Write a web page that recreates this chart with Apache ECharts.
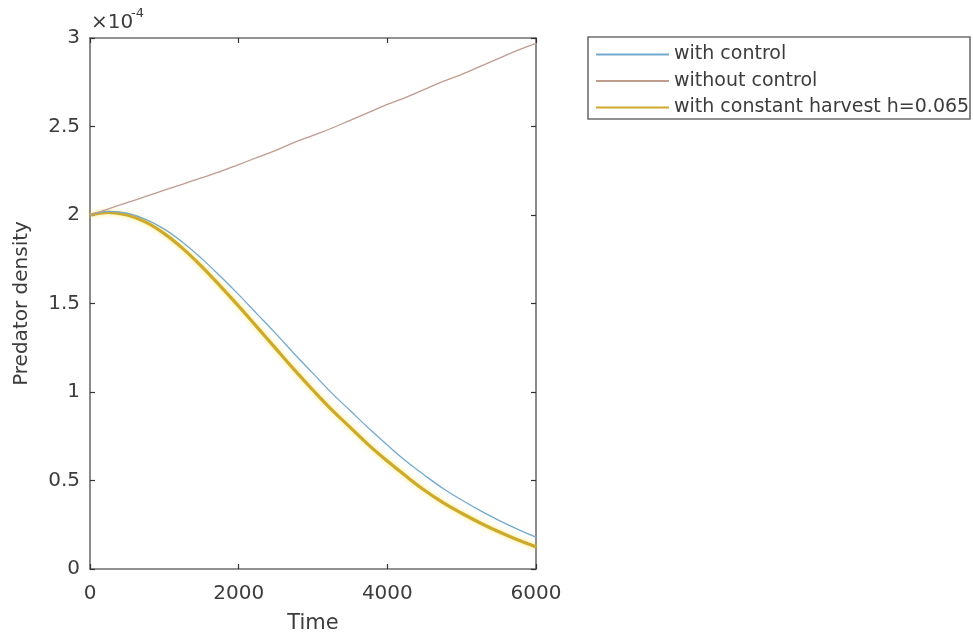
<!DOCTYPE html>
<html>
<head>
<meta charset="utf-8">
<script src="https://cdn.jsdelivr.net/npm/echarts@6/dist/echarts.min.js"></script>
<style>
html,body{margin:0;padding:0;background:#fff;}
#chart{width:973px;height:634px;}
</style>
</head>
<body>
<div id="chart"></div>
<script>
// Time points
var times = [0,250,500,750,1000,1250,1500,1750,2000,2250,2500,2750,3000,3250,3500,3750,4000,4250,4500,4750,5000,5250,5500,5750,6000];
// Predator density (x 1e-4)
var withControl = [2.00,2.02,2.01,1.975,1.92,1.845,1.755,1.655,1.55,1.44,1.33,1.215,1.105,0.995,0.895,0.795,0.70,0.61,0.53,0.455,0.39,0.33,0.275,0.225,0.18];
var withoutControl = [2.00,2.035,2.07,2.105,2.14,2.175,2.21,2.245,2.285,2.325,2.365,2.41,2.45,2.49,2.535,2.58,2.625,2.665,2.71,2.755,2.795,2.84,2.885,2.93,2.97];
var constantHarvest = [2.00,2.015,2.00,1.96,1.895,1.81,1.71,1.60,1.485,1.365,1.245,1.125,1.01,0.90,0.80,0.70,0.61,0.525,0.445,0.375,0.315,0.26,0.21,0.165,0.125];
var seriesNames = ['with control','without control','with constant harvest h=0.065'];
var xTicks = [0,2000,4000,6000];
var yTicks = [0,0.5,1,1.5,2,2.5,3];

function pairs(vals){ return times.map(function(t,i){ return [t, vals[i]]; }); }

var FONT = 'DejaVu Sans';
var TXT = '#3c3c3c';
var AX = '#6e6e6e';

var chart = echarts.init(document.getElementById('chart'), null, {renderer:'canvas'});
var axisCommon = {
  axisLine:{show:true, onZero:false, lineStyle:{color:AX, width:1.6}},
  axisTick:{show:true, inside:true, length:5, lineStyle:{color:'#333', width:1.2}},
  splitLine:{show:false}
};
chart.setOption({
  animation:false,
  backgroundColor:'#fff',
  grid:{left:90, right:437, top:38, bottom:65, containLabel:false, outerBoundsMode:'none'},
  xAxis:[
    Object.assign({type:'value', position:'bottom', min:0, max:6000, interval:2000,
      name:'Time', nameLocation:'middle', nameGap:44,
      nameTextStyle:{fontFamily:FONT, fontSize:21, color:TXT},
      axisLabel:{fontFamily:FONT, fontSize:20, color:TXT, margin:15,
        formatter:function(v){ return xTicks.indexOf(v)>=0 ? String(v) : ''; }}
    }, axisCommon),
    Object.assign({type:'value', position:'top', min:0, max:6000, interval:2000,
      axisLabel:{show:false}}, axisCommon)
  ],
  yAxis:[
    Object.assign({type:'value', position:'left', min:0, max:3, interval:0.5,
      name:'Predator density', nameLocation:'middle', nameGap:58,
      nameTextStyle:{fontFamily:FONT, fontSize:20, color:TXT},
      axisLabel:{fontFamily:FONT, fontSize:20, color:TXT, margin:10,
        formatter:function(v){ return yTicks.indexOf(v)>=0 ? String(v) : ''; }}
    }, axisCommon),
    Object.assign({type:'value', position:'right', min:0, max:3, interval:0.5,
      axisLabel:{show:false}}, axisCommon)
  ],
  legend:{
    orient:'vertical', left:595, top:45, padding:0,
    itemWidth:73, itemHeight:20, itemGap:7.5,
    data:seriesNames,
    itemStyle:{opacity:0},
    textStyle:{fontFamily:FONT, fontSize:19, color:TXT},
    selectedMode:false
  },
  graphic:[
    {type:'rect', shape:{x:588, y:37, width:382, height:82},
     style:{fill:'rgba(0,0,0,0)', stroke:'#6e6e6e', lineWidth:1.6}, z:0},
    {type:'text', left:91, top:13, style:{text:'\u00d710', font:'20px "DejaVu Sans"', fill:TXT}},
    {type:'text', left:131, top:7, style:{text:'-4', font:'13px "DejaVu Sans"', fill:TXT}}
  ],
  series:[
    {name:seriesNames[0], type:'line', data:pairs(withControl), smooth:0.4, symbol:'none',
     lineStyle:{color:'#74a9cf', width:1.3}, itemStyle:{color:'#74a9cf'}, z:3},
    {name:seriesNames[1], type:'line', data:pairs(withoutControl), smooth:0.4, symbol:'none',
     lineStyle:{color:'#bf9c8e', width:1.3}, itemStyle:{color:'#bf9c8e'}, z:3},
    {name:seriesNames[2], type:'line', data:pairs(constantHarvest), smooth:0.4, symbol:'none',
     lineStyle:{color:'#cdaa2c', width:3.2, shadowColor:'rgba(255,225,60,0.7)', shadowBlur:4}, itemStyle:{color:'#cdaa2c'}, z:2}
  ]
});
</script>
</body>
</html>
